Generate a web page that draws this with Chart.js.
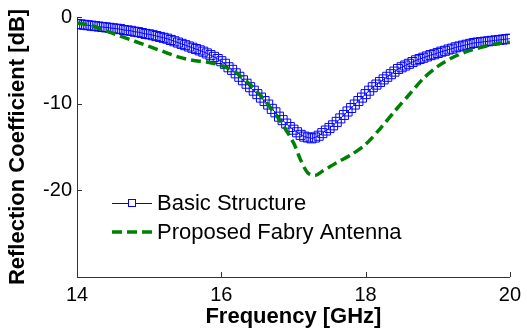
<!DOCTYPE html>
<html>
<head>
<meta charset="utf-8">
<script src="https://cdn.jsdelivr.net/npm/chart.js@4"></script>
<style>
  html, body { margin: 0; padding: 0; background: #fff; }
  #wrap { width: 527px; height: 336px; }
</style>
</head>
<body>
<div id="wrap"><canvas id="chartS11" width="527" height="336"></canvas></div>
<script>
// ====================== DATOS ======================
const xTicks = [14, 16, 18, 20];
const yTicks = [0, -10, -20];

// Basic Structure (muestreo denso, marcadores cuadrados)
const freqBasic = [
    14.00, 14.05, 14.10, 14.15, 14.20, 14.25, 14.30, 14.35, 14.40, 14.45,
    14.50, 14.55, 14.60, 14.65, 14.70, 14.75, 14.80, 14.85, 14.90, 14.95,
    15.00, 15.05, 15.10, 15.15, 15.20, 15.25, 15.30, 15.35, 15.40, 15.45,
    15.50, 15.55, 15.60, 15.65, 15.70, 15.75, 15.80, 15.85, 15.90, 15.95,
    16.00, 16.05, 16.10, 16.15, 16.20, 16.25, 16.30, 16.35, 16.40, 16.45,
    16.50, 16.55, 16.60, 16.65, 16.70, 16.75, 16.80, 16.85, 16.90, 16.95,
    17.00, 17.05, 17.10, 17.15, 17.20, 17.25, 17.30, 17.35, 17.40, 17.45,
    17.50, 17.55, 17.60, 17.65, 17.70, 17.75, 17.80, 17.85, 17.90, 17.95,
    18.00, 18.05, 18.10, 18.15, 18.20, 18.25, 18.30, 18.35, 18.40, 18.45,
    18.50, 18.55, 18.60, 18.65, 18.70, 18.75, 18.80, 18.85, 18.90, 18.95,
    19.00, 19.05, 19.10, 19.15, 19.20, 19.25, 19.30, 19.35, 19.40, 19.45,
    19.50, 19.55, 19.60, 19.65, 19.70, 19.75, 19.80, 19.85, 19.90, 19.95,
    20.00
];
const s11Basic = [
    -0.8, -0.85, -0.9, -0.95, -1.0, -1.05, -1.1, -1.15, -1.2, -1.25,
    -1.3, -1.35, -1.4, -1.5, -1.55, -1.6, -1.7, -1.75, -1.85, -1.95,
    -2.0, -2.1, -2.2, -2.3, -2.4, -2.5, -2.65, -2.8, -2.95, -3.1,
    -3.25, -3.4, -3.55, -3.7, -3.85, -4.0, -4.2, -4.4, -4.6, -4.85,
    -5.1, -5.4, -5.8, -6.1, -6.5, -6.9, -7.3, -7.7, -8.1, -8.5,
    -8.9, -9.3, -9.7, -10.1, -10.6, -11.0, -11.5, -11.9, -12.3, -12.7,
    -13.0, -13.3, -13.6, -13.8, -13.9, -14.0, -13.9, -13.7, -13.4, -13.1,
    -12.8, -12.5, -12.1, -11.7, -11.3, -10.9, -10.5, -10.1, -9.7, -9.3,
    -8.9, -8.5, -8.1, -7.8, -7.5, -7.2, -6.9, -6.6, -6.3, -6.0,
    -5.8, -5.6, -5.4, -5.2, -5.0, -4.85, -4.7, -4.55, -4.4, -4.3,
    -4.15, -4.0, -3.9, -3.75, -3.65, -3.5, -3.4, -3.3, -3.2, -3.1,
    -3.0, -2.95, -2.9, -2.85, -2.8, -2.75, -2.7, -2.65, -2.6, -2.55,
    -2.5
];

// Proposed Fabry Antenna
const freqFabry = [
    14.0, 14.2, 14.4, 14.6, 14.8, 15.0, 15.2, 15.4, 15.6, 15.8,
    16.0, 16.2, 16.4, 16.6, 16.8, 17.0, 17.1, 17.2, 17.3, 17.4,
    17.6, 17.8, 18.0, 18.2, 18.4, 18.6, 18.8, 19.0, 19.2, 19.4,
    19.6, 19.8, 20.0
];
const s11Fabry = [
    -0.7, -1.0, -1.6, -2.2, -2.8, -3.4, -4.0, -4.6, -5.0, -5.2,
    -5.6, -6.4, -7.8, -9.6, -11.8, -14.5, -16.5, -18.0, -18.3, -17.8,
    -16.8, -15.9, -14.7, -12.9, -10.9, -9.0, -7.1, -5.7, -4.7, -4.0,
    -3.5, -3.1, -2.9
];

const seriesNames = ["Basic Structure", "Proposed Fabry Antenna"];

// ====================== ESTILO ======================
const AZUL  = "#0000ff";
const VERDE = "#008000";
const FUENTE = "'Liberation Sans', Arial, sans-serif";

// ticks hacia adentro + leyenda dentro del área
const extrasPlugin = {
    id: "extras",
    afterDraw(chart) {
        const ctx = chart.ctx;
        const xs = chart.scales.x, ys = chart.scales.y;
        const area = chart.chartArea;

        ctx.save();
        ctx.strokeStyle = "#333";
        ctx.lineWidth = 1;
        ctx.beginPath();
        xTicks.forEach(v => {
            const px = Math.round(xs.getPixelForValue(v)) + 0.5;
            ctx.moveTo(px, area.bottom);
            ctx.lineTo(px, area.bottom - 5);
        });
        yTicks.forEach(v => {
            const py = Math.round(ys.getPixelForValue(v)) + 0.5;
            ctx.moveTo(area.left, py);
            ctx.lineTo(area.left + 5, py);
        });
        ctx.stroke();

        // leyenda
        const lx0 = 112, lx1 = 152, ty = 157;
        const row1 = 203, row2 = 232;
        ctx.font = "22px " + FUENTE;
        ctx.fillStyle = "#000";
        ctx.textBaseline = "middle";
        ctx.textAlign = "left";

        ctx.strokeStyle = AZUL;
        ctx.lineWidth = 1;
        ctx.beginPath();
        ctx.moveTo(lx0, row1 + 0.5);
        ctx.lineTo(lx1, row1 + 0.5);
        ctx.stroke();
        ctx.fillStyle = "#fff";
        ctx.fillRect(128, row1 - 3.5, 8, 8);
        ctx.strokeRect(128.5, row1 - 3.5, 7, 7);
        ctx.fillStyle = "#000";
        ctx.fillText(seriesNames[0], ty, row1 + 1);

        ctx.strokeStyle = VERDE;
        ctx.lineWidth = 3.5;
        ctx.setLineDash([10, 5]);
        ctx.beginPath();
        ctx.moveTo(lx0, row2);
        ctx.lineTo(lx1, row2);
        ctx.stroke();
        ctx.setLineDash([]);
        ctx.fillText(seriesNames[1], ty, row2 + 1);
        ctx.restore();
    }
};

const ctx = document.getElementById("chartS11").getContext("2d");
new Chart(ctx, {
    type: "line",
    data: {
        datasets: [
            {
                label: seriesNames[0],
                data: freqBasic.map((f, i) => ({ x: f, y: s11Basic[i] })),
                borderColor: AZUL,
                borderWidth: 1,
                pointStyle: "rect",
                pointRadius: 6.4,
                pointBorderWidth: 1,
                pointBorderColor: AZUL,
                pointBackgroundColor: "rgba(0,0,0,0)",
                tension: 0,
                order: 1
            },
            {
                label: seriesNames[1],
                data: freqFabry.map((f, i) => ({ x: f, y: s11Fabry[i] })),
                borderColor: VERDE,
                borderWidth: 3.5,
                borderDash: [10, 5],
                pointRadius: 0,
                tension: 0.3,
                order: 0
            }
        ]
    },
    options: {
        responsive: false,
        animation: false,
        layout: { padding: { top: 16, right: 15, left: 0, bottom: 0 } },
        plugins: {
            legend: { display: false },
            tooltip: { enabled: false }
        },
        scales: {
            x: {
                type: "linear",
                min: 14,
                max: 20,
                afterFit: s => { s.height = 59; },
                afterBuildTicks: s => { s.ticks = xTicks.map(v => ({ value: v })); },
                grid: { display: false, drawTicks: false },
                border: { color: "#333", width: 1 },
                ticks: {
                    color: "#000",
                    padding: 6,
                    maxRotation: 0,
                    font: { family: FUENTE, size: 20 }
                },
                title: {
                    display: true,
                    text: "Frequency [GHz]",
                    color: "#000",
                    padding: { top: 0, bottom: 6 },
                    font: { family: FUENTE, size: 22, weight: "bold" }
                }
            },
            y: {
                min: -30,
                max: 0,
                afterFit: s => { s.width = 77; },
                afterBuildTicks: s => { s.ticks = yTicks.map(v => ({ value: v })); },
                grid: { display: false, drawTicks: false },
                border: { color: "#333", width: 1 },
                ticks: {
                    color: "#000",
                    padding: 5,
                    font: { family: FUENTE, size: 20 }
                },
                title: {
                    display: true,
                    text: "Reflection Coefficient [dB]",
                    color: "#000",
                    padding: { top: 5, bottom: 0 },
                    font: { family: FUENTE, size: 22, weight: "bold" }
                }
            }
        }
    },
    plugins: [extrasPlugin]
});
</script>
</body>
</html>
